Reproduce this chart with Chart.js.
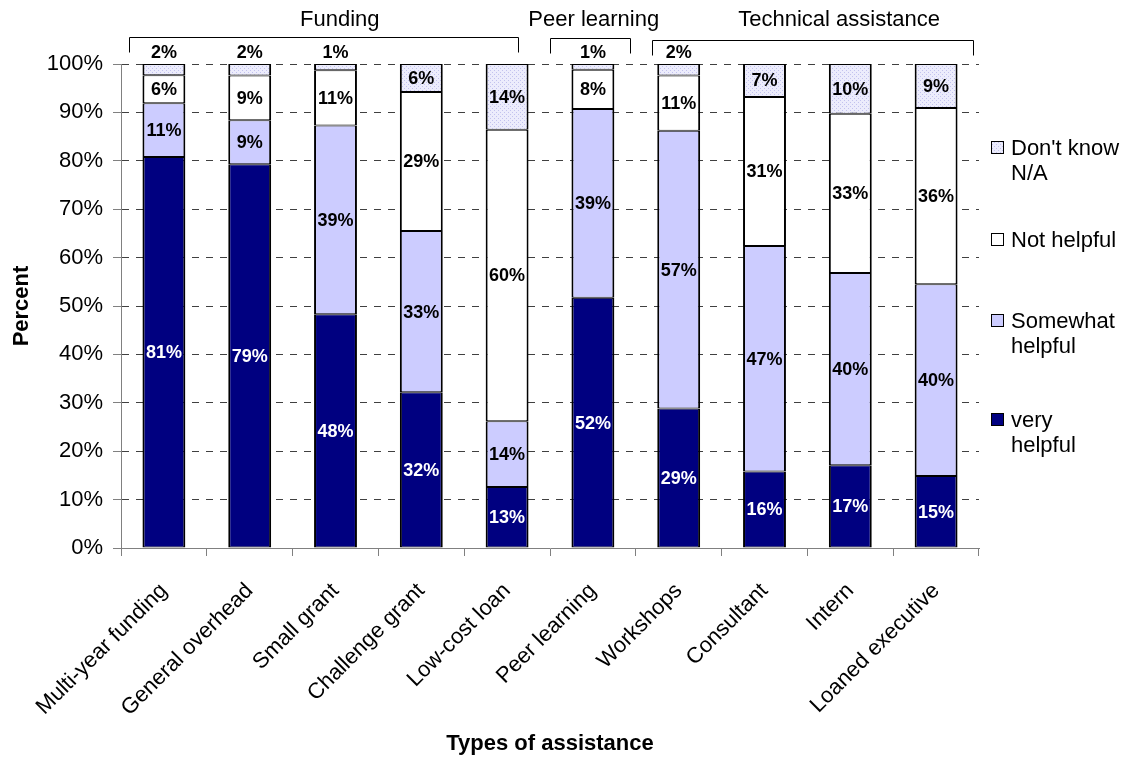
<!DOCTYPE html>
<html>
<head>
<meta charset="utf-8">
<script src="https://cdn.jsdelivr.net/npm/chart.js@4.4.1/dist/chart.umd.min.js"></script>
<style>
  body { margin: 0; background: #fff; }
  #wrap { width: 1130px; height: 757px; }
</style>
</head>
<body>
<div id="wrap"><canvas id="chart" width="1130" height="757"></canvas></div>
<script>
// data (percent of respondents)
const categories = ['Multi-year funding', 'General overhead', 'Small grant', 'Challenge grant', 'Low-cost loan',
  'Peer learning', 'Workshops', 'Consultant', 'Intern', 'Loaned executive'];
const seriesNames = ['very helpful', 'Somewhat helpful', 'Not helpful', "Don't know N/A"];
const veryHelpful = [80.8, 79.3, 48.3, 32.2, 12.6, 51.7, 28.8, 15.8, 17.1, 14.9];
const somewhatHelpful = [11.1, 9.1, 39.0, 33.3, 13.6, 39.0, 57.4, 46.6, 39.7, 39.6];
const notHelpful = [5.8, 9.2, 11.4, 28.7, 60.2, 8.1, 11.4, 30.8, 32.9, 36.4];
const dontKnow = [2.3, 2.4, 1.3, 5.8, 13.6, 1.2, 2.4, 6.8, 10.3, 9.1];
const yTicks = [0, 10, 20, 30, 40, 50, 60, 70, 80, 90, 100];
const groupNames = ['Funding', 'Peer learning', 'Technical assistance'];

const FONT = 'Arial, "Liberation Sans", sans-serif';
Chart.defaults.font.family = FONT;
Chart.defaults.color = '#000';

const canvas = document.getElementById('chart');

function dotPattern() {
  const c = document.createElement('canvas');
  c.width = 4; c.height = 4;
  const g = c.getContext('2d');
  g.fillStyle = '#ececfc';
  g.fillRect(0, 0, 4, 4);
  g.fillStyle = '#c2c2ee';
  g.fillRect(0, 0, 1, 1);
  g.fillRect(2, 2, 1, 1);
  return canvas.getContext('2d').createPattern(c, 'repeat');
}

const colors = ['#000080', '#ccccff', '#ffffff', dotPattern()];

// labels on each segment; tiny ones sit above the bar
const segLabels = {
  id: 'segLabels',
  afterDatasetsDraw(chart) {
    const ctx = chart.ctx;
    ctx.save();
    ctx.font = 'bold 18px ' + FONT;
    ctx.textAlign = 'center';
    ctx.textBaseline = 'middle';
    chart.data.datasets.forEach((ds, di) => {
      chart.getDatasetMeta(di).data.forEach((bar, i) => {
        const v = ds.data[i];
        let y = (bar.y + bar.base) / 2;
        if (v < 3) y = Math.min(bar.y, bar.base) - 12;
        ctx.fillStyle = (di === 0 && v >= 3) ? '#fff' : '#000';
        ctx.fillText(Math.round(v) + '%', bar.x, y + 1);
      });
    });
    ctx.restore();
  }
};

// brackets with group names over the bars
const groupBrackets = {
  id: 'groupBrackets',
  afterDraw(chart) {
    const sx = chart.scales.x, ctx = chart.ctx;
    const spans = [[-0.41, 4.13], [4.5, 5.43], [5.69, 9.43]];
    const textAt = [2.05, 5.01, 7.87];
    const lineY = [37.5, 38.5, 40.5];
    ctx.save();
    ctx.strokeStyle = '#000';
    ctx.lineWidth = 1;
    ctx.font = '22px ' + FONT;
    ctx.fillStyle = '#000';
    ctx.textAlign = 'center';
    ctx.textBaseline = 'middle';
    groupNames.forEach((name, i) => {
      const x0 = Math.round(sx.getPixelForValue(spans[i][0])) + 0.5;
      const x1 = Math.round(sx.getPixelForValue(spans[i][1])) + 0.5;
      ctx.beginPath();
      ctx.moveTo(x0, lineY[i] + 15);
      ctx.lineTo(x0, lineY[i]);
      ctx.lineTo(x1, lineY[i]);
      ctx.lineTo(x1, lineY[i] + 15);
      ctx.stroke();
      ctx.fillText(name, sx.getPixelForValue(textAt[i]), 20);
    });
    ctx.restore();
  }
};

const sideLegend = {
  id: 'sideLegend',
  afterDraw(chart) {
    const ctx = chart.ctx;
    const items = [
      { ds: 3, lines: ["Don't know", 'N/A'], y: 147 },
      { ds: 2, lines: ['Not helpful'], y: 239 },
      { ds: 1, lines: ['Somewhat', 'helpful'], y: 320 },
      { ds: 0, lines: ['very', 'helpful'], y: 419 }
    ];
    const bx = chart.chartArea.right + 12;
    ctx.save();
    ctx.font = '22px ' + FONT;
    ctx.textBaseline = 'middle';
    ctx.textAlign = 'left';
    items.forEach(it => {
      ctx.fillStyle = chart.data.datasets[it.ds].backgroundColor;
      ctx.fillRect(bx, it.y - 6, 13, 13);
      ctx.strokeStyle = '#000';
      ctx.lineWidth = 1;
      ctx.strokeRect(bx + 0.5, it.y - 5.5, 12, 12);
      ctx.fillStyle = '#000';
      it.lines.forEach((t, k) => ctx.fillText(t, bx + 20, it.y + 2 + k * 25));
    });
    ctx.restore();
  }
};

const seriesData = [veryHelpful, somewhatHelpful, notHelpful, dontKnow];

new Chart(canvas, {
  type: 'bar',
  data: {
    labels: categories,
    datasets: seriesData.map((d, i) => ({
      label: seriesNames[i],
      data: d,
      backgroundColor: colors[i],
      borderColor: '#000',
      borderWidth: { left: 2, right: 2, top: 1, bottom: 1 },
      borderSkipped: false,
      barPercentage: 0.5,
      categoryPercentage: 1.0
    }))
  },
  options: {
    responsive: false,
    animation: false,
    layout: { padding: { top: 64, right: 151, left: 0, bottom: 0 } },
    plugins: {
      legend: { display: false },
      tooltip: { enabled: false }
    },
    scales: {
      x: {
        stacked: true,
        grid: { drawOnChartArea: false, drawTicks: true, tickLength: 8, color: '#808080', offset: true },
        border: { color: '#808080' },
        ticks: { font: { size: 22 }, color: '#000', minRotation: 45, maxRotation: 45, autoSkip: false, padding: 22 },
        title: { display: true, text: 'Types of assistance', font: { size: 22, weight: 'bold' }, color: '#000', padding: { top: 0, bottom: 0 } },
        afterFit: s => { s.height = 209; }
      },
      y: {
        stacked: true,
        min: 0,
        max: 100,
        afterBuildTicks: s => { s.ticks = yTicks.map(v => ({ value: v })); },
        grid: {
          color: c => c.tick && c.tick.value === 0 ? 'rgba(0,0,0,0)' : '#404040',
          tickColor: '#808080',
          tickLength: 8,
          tickBorderDash: []
        },
        border: { color: '#808080', dash: [7, 7] },
        ticks: { font: { size: 22 }, color: '#000', padding: 10, callback: v => v + '%' },
        title: { display: true, text: 'Percent', font: { size: 22, weight: 'bold' }, color: '#000', padding: { top: 9, bottom: 0 } },
        afterFit: s => { s.width = 121; }
      }
    }
  },
  plugins: [segLabels, groupBrackets, sideLegend]
});
</script>
</body>
</html>
